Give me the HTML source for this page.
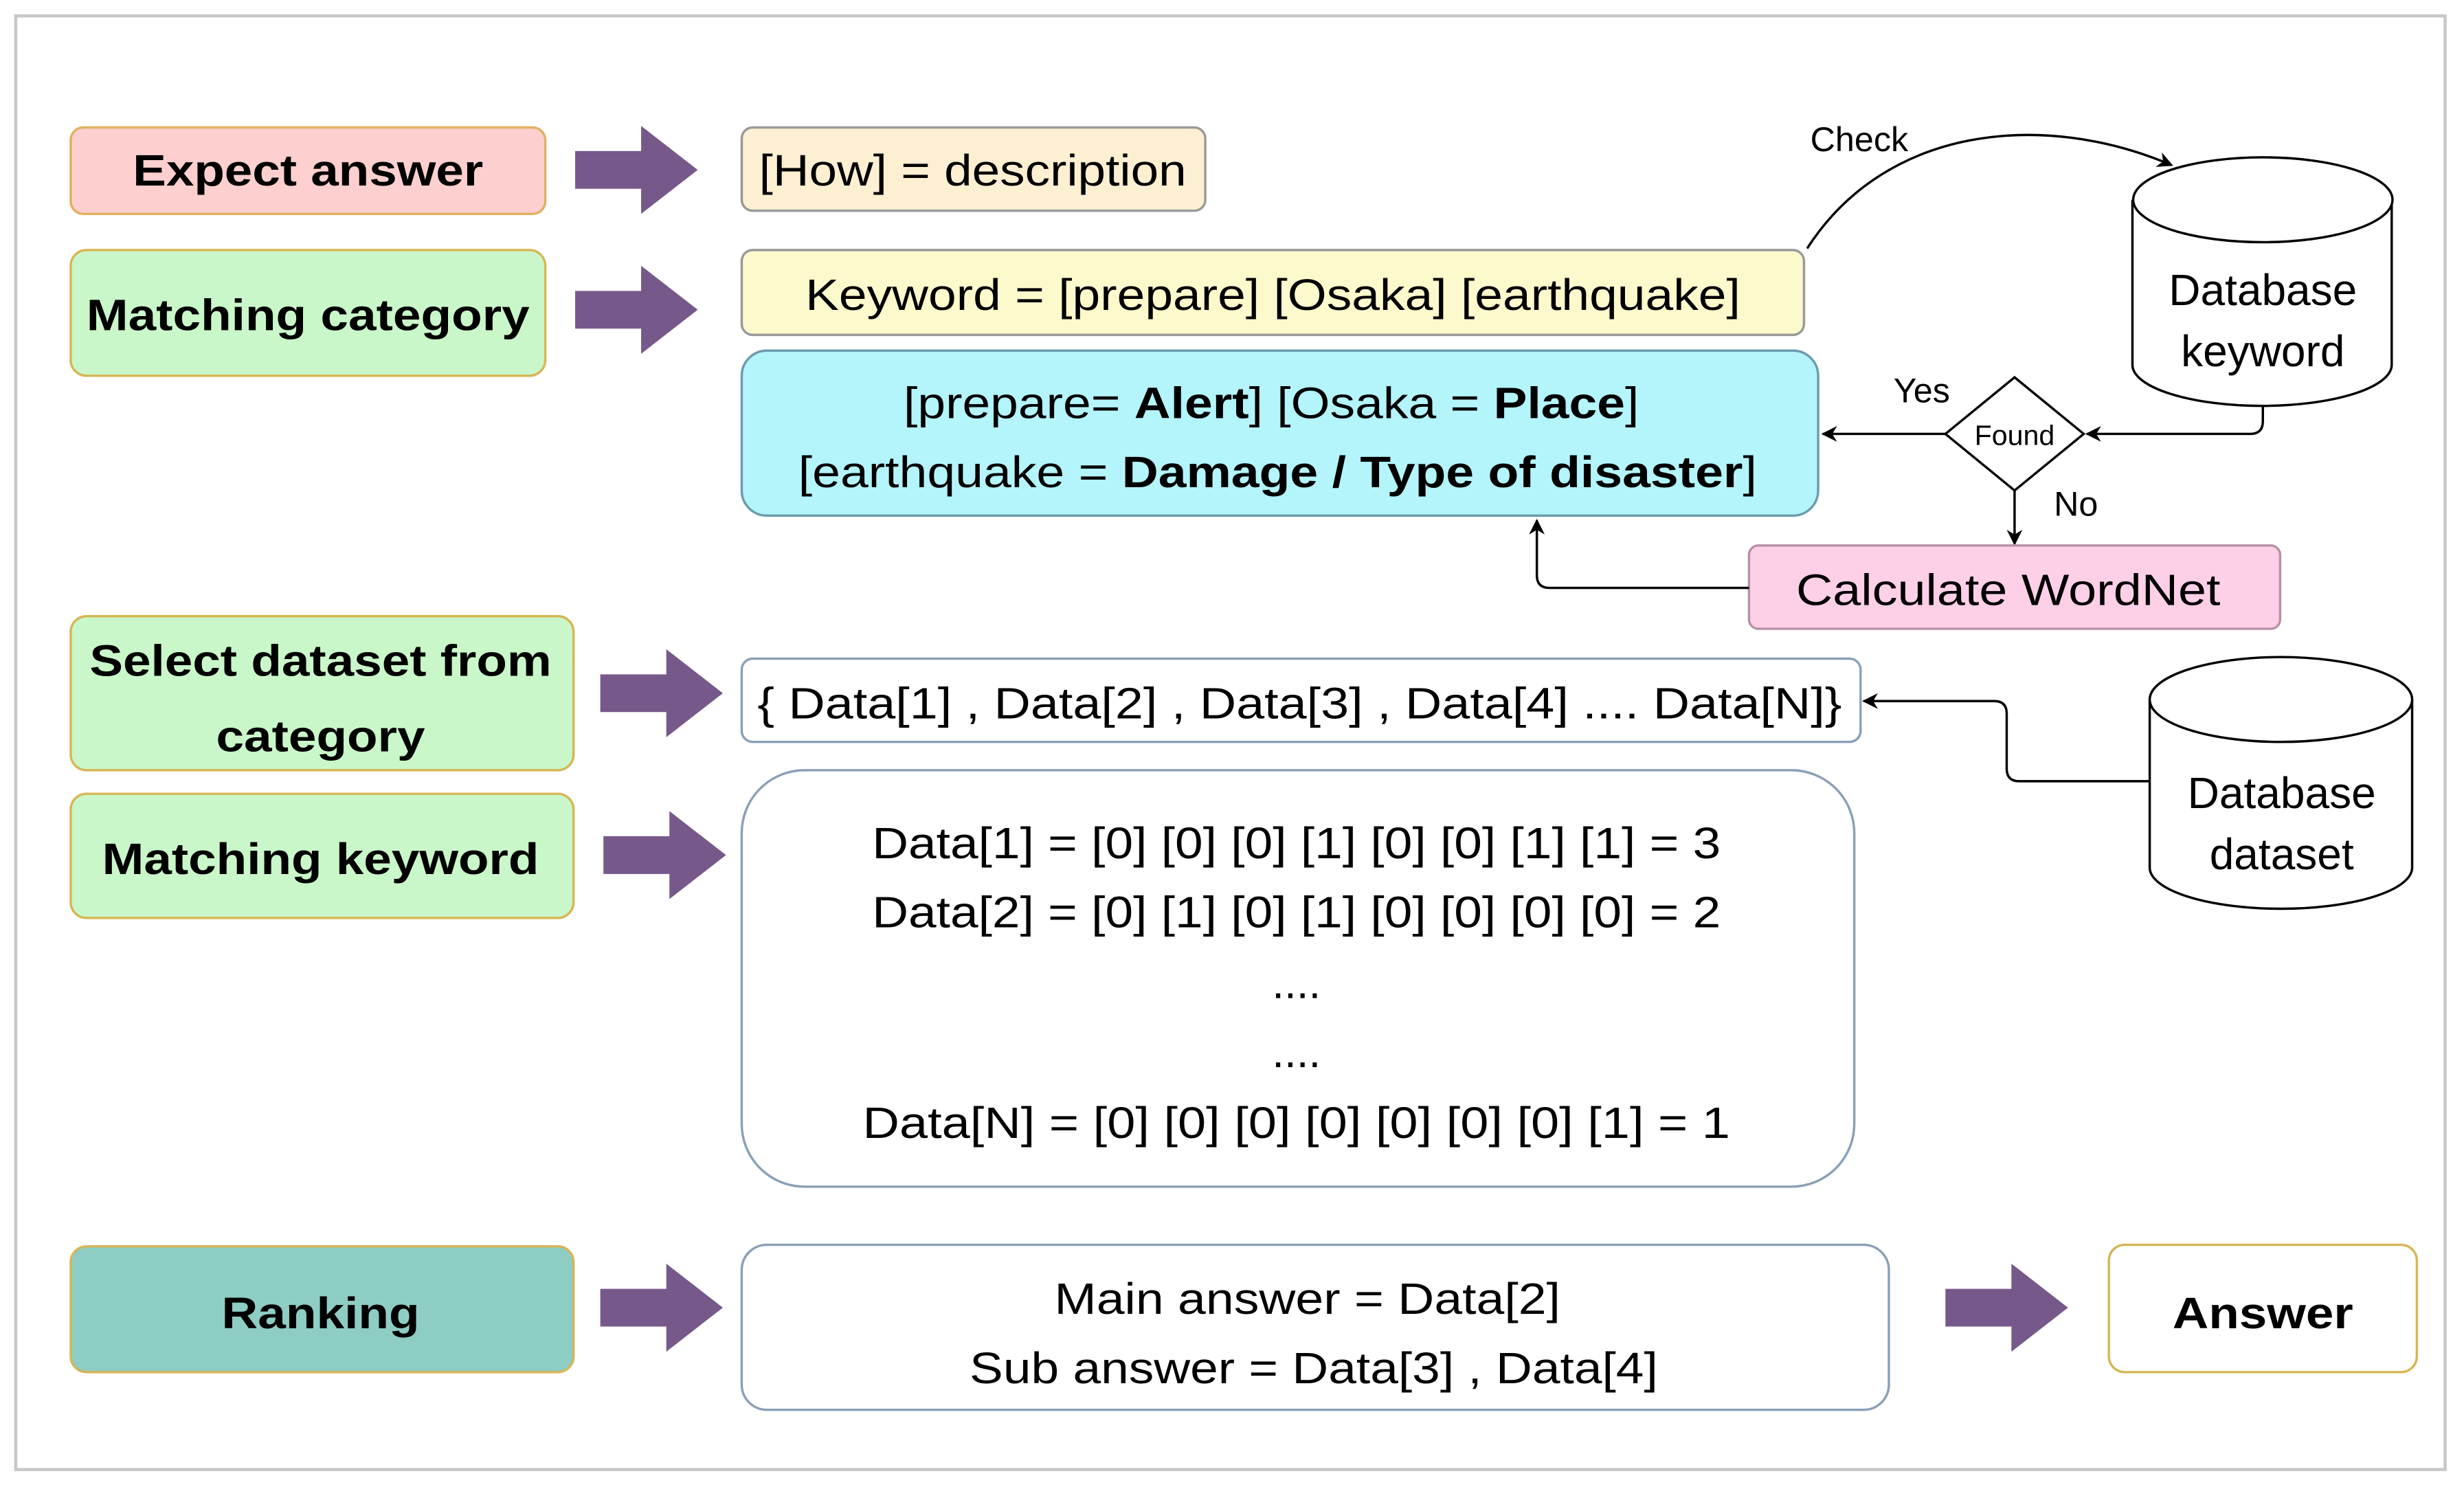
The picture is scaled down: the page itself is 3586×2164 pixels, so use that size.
<!DOCTYPE html>
<html><head><meta charset="utf-8"><style>html,body{margin:0;padding:0;background:#fff}svg{display:block}</style></head>
<body>
<svg xmlns="http://www.w3.org/2000/svg" width="3586" height="2164" viewBox="0 0 1568 946" font-family="Liberation Sans, Arial, sans-serif">
<defs>
<marker id="ah" markerWidth="10" markerHeight="10" refX="9" refY="5" orient="auto" markerUnits="userSpaceOnUse"><path d="M0,0 L10,5 L0,10 L3,5 Z" fill="#000"/></marker>
<g id="parr"><path d="M0,-12 H42 V-28 L78,0 L42,28 V12 H0 Z" fill="#76598a"/></g>
</defs>
<rect x="0" y="0" width="1568" height="946" fill="#fff"/>
<rect x="10" y="10" width="1546" height="925" fill="#fff" stroke="#c8c8c8" stroke-width="2"/>

<!-- Left labels -->
<rect x="45" y="81" width="302" height="55" rx="8" fill="#fdd0cf" stroke="#e0b060" stroke-width="1.5"/>
<text x="196" y="118" font-size="28" font-weight="bold" text-anchor="middle" textLength="223" lengthAdjust="spacingAndGlyphs">Expect answer</text>
<rect x="45" y="159" width="302" height="80" rx="10" fill="#c9f7c9" stroke="#d6b656" stroke-width="1.5"/>
<text x="196" y="210" font-size="28" font-weight="bold" text-anchor="middle" textLength="282" lengthAdjust="spacingAndGlyphs">Matching category</text>
<rect x="45" y="392" width="320" height="98" rx="10" fill="#c9f7c9" stroke="#d6b656" stroke-width="1.5"/>
<text x="204" y="430" font-size="28" font-weight="bold" text-anchor="middle" textLength="294" lengthAdjust="spacingAndGlyphs">Select dataset from</text>
<text x="204" y="478" font-size="28" font-weight="bold" text-anchor="middle" textLength="133" lengthAdjust="spacingAndGlyphs">category</text>
<rect x="45" y="505" width="320" height="79" rx="10" fill="#c9f7c9" stroke="#d6b656" stroke-width="1.5"/>
<text x="204" y="556" font-size="28" font-weight="bold" text-anchor="middle" textLength="278" lengthAdjust="spacingAndGlyphs">Matching keyword</text>
<rect x="45" y="793" width="320" height="80" rx="10" fill="#8ecdc3" stroke="#d6b656" stroke-width="1.5"/>
<text x="204" y="845" font-size="28" font-weight="bold" text-anchor="middle" textLength="126" lengthAdjust="spacingAndGlyphs">Ranking</text>

<!-- purple arrows -->
<use href="#parr" x="366" y="108"/>
<use href="#parr" x="366" y="197"/>
<use href="#parr" x="382" y="441"/>
<use href="#parr" x="384" y="544"/>
<use href="#parr" x="382" y="832"/>
<use href="#parr" x="1238" y="832"/>

<!-- center boxes -->
<rect x="472" y="81" width="295" height="53" rx="7" fill="#fcefd2" stroke="#999" stroke-width="1.5"/>
<text x="619" y="118" font-size="28" text-anchor="middle" textLength="272" lengthAdjust="spacingAndGlyphs">[How] = description</text>
<rect x="472" y="159" width="676" height="54" rx="7" fill="#fcf9cd" stroke="#999" stroke-width="1.5"/>
<text x="810" y="197" font-size="28" text-anchor="middle" textLength="595" lengthAdjust="spacingAndGlyphs">Keyword = [prepare] [Osaka] [earthquake]</text>
<rect x="472" y="223" width="685" height="105" rx="16" fill="#b4f4fb" stroke="#6c9bb0" stroke-width="1.5"/>
<text x="809" y="266" font-size="28" text-anchor="middle" textLength="468" lengthAdjust="spacingAndGlyphs">[prepare= <tspan font-weight="bold">Alert</tspan>] [Osaka = <tspan font-weight="bold">Place</tspan>]</text>
<text x="813" y="310" font-size="28" text-anchor="middle" textLength="610" lengthAdjust="spacingAndGlyphs">[earthquake = <tspan font-weight="bold">Damage / Type of disaster</tspan>]</text>

<rect x="472" y="419" width="712" height="53" rx="7" fill="#fff" stroke="#8aa0b8" stroke-width="1.5"/>
<text x="827" y="457" font-size="28" text-anchor="middle" textLength="690" lengthAdjust="spacingAndGlyphs">{ Data[1] , Data[2] , Data[3] , Data[4] .... Data[N]}</text>

<rect x="472" y="490" width="708" height="265" rx="40" fill="#fff" stroke="#8aa0b8" stroke-width="1.5"/>
<g font-size="28" text-anchor="middle">
<text x="825" y="546" textLength="540" lengthAdjust="spacingAndGlyphs">Data[1] = [0] [0] [0] [1] [0] [0] [1] [1] = 3</text>
<text x="825" y="590" textLength="540" lengthAdjust="spacingAndGlyphs">Data[2] = [0] [1] [0] [1] [0] [0] [0] [0] = 2</text>
<text x="825" y="635">....</text>
<text x="825" y="679">....</text>
<text x="825" y="724" textLength="552" lengthAdjust="spacingAndGlyphs">Data[N] =  [0] [0] [0] [0] [0] [0] [0] [1] = 1</text>
</g>

<rect x="472" y="792" width="730" height="105" rx="16" fill="#fff" stroke="#8aa0b8" stroke-width="1.5"/>
<text x="832" y="836" font-size="28" text-anchor="middle" textLength="322" lengthAdjust="spacingAndGlyphs">Main answer = Data[2]</text>
<text x="836" y="880" font-size="28" text-anchor="middle" textLength="438" lengthAdjust="spacingAndGlyphs">Sub answer = Data[3] , Data[4]</text>

<rect x="1342" y="792" width="196" height="81" rx="10" fill="#fff" stroke="#d6b656" stroke-width="1.5"/>
<text x="1440" y="845" font-size="28" font-weight="bold" text-anchor="middle" textLength="115" lengthAdjust="spacingAndGlyphs">Answer</text>

<!-- Check curve -->
<path d="M1150,158 C1200,80 1300,70 1382,105" fill="none" stroke="#000" stroke-width="1.5" marker-end="url(#ah)"/>
<text x="1152" y="96" font-size="22">Check</text>

<!-- DB keyword -->
<path d="M1357,127 V232 A82,26 0 0 0 1522,232 V127" fill="#fff" stroke="#000" stroke-width="1.5"/>
<ellipse cx="1440" cy="127" rx="82.5" ry="27" fill="#fff" stroke="#000" stroke-width="1.5"/>
<text x="1440" y="194" font-size="28" text-anchor="middle">Database</text>
<text x="1440" y="233" font-size="28" text-anchor="middle">keyword</text>

<!-- Found diamond -->
<path d="M1282,240 L1326,276 L1282,312 L1238,276 Z" fill="#fff" stroke="#000" stroke-width="1.5"/>
<text x="1282" y="283" font-size="18" text-anchor="middle">Found</text>
<path d="M1440,258 V268 Q1440,276 1432,276 H1328" fill="none" stroke="#000" stroke-width="1.5" marker-end="url(#ah)"/>
<line x1="1238" y1="276" x2="1160" y2="276" stroke="#000" stroke-width="1.5" marker-end="url(#ah)"/>
<text x="1205" y="256" font-size="22">Yes</text>
<line x1="1282" y1="312" x2="1282" y2="346" stroke="#000" stroke-width="1.5" marker-end="url(#ah)"/>
<text x="1307" y="328" font-size="22">No</text>

<rect x="1113" y="347" width="338" height="53" rx="6" fill="#fdd0e8" stroke="#b890a8" stroke-width="1.5"/>
<text x="1278" y="385" font-size="28" text-anchor="middle" textLength="270" lengthAdjust="spacingAndGlyphs">Calculate WordNet</text>
<path d="M1113,374 H986 Q978,374 978,366 V331" fill="none" stroke="#000" stroke-width="1.5" marker-end="url(#ah)"/>

<!-- DB dataset -->
<path d="M1368,445 V552 A83,26 0 0 0 1535,552 V445" fill="#fff" stroke="#000" stroke-width="1.5"/>
<ellipse cx="1451.5" cy="445" rx="83.5" ry="27" fill="#fff" stroke="#000" stroke-width="1.5"/>
<text x="1452" y="514" font-size="28" text-anchor="middle">Database</text>
<text x="1452" y="553" font-size="28" text-anchor="middle">dataset</text>
<path d="M1368,497 H1285 Q1277,497 1277,489 V454 Q1277,446 1269,446 H1186" fill="none" stroke="#000" stroke-width="1.5" marker-end="url(#ah)"/>
</svg>
</body></html>
